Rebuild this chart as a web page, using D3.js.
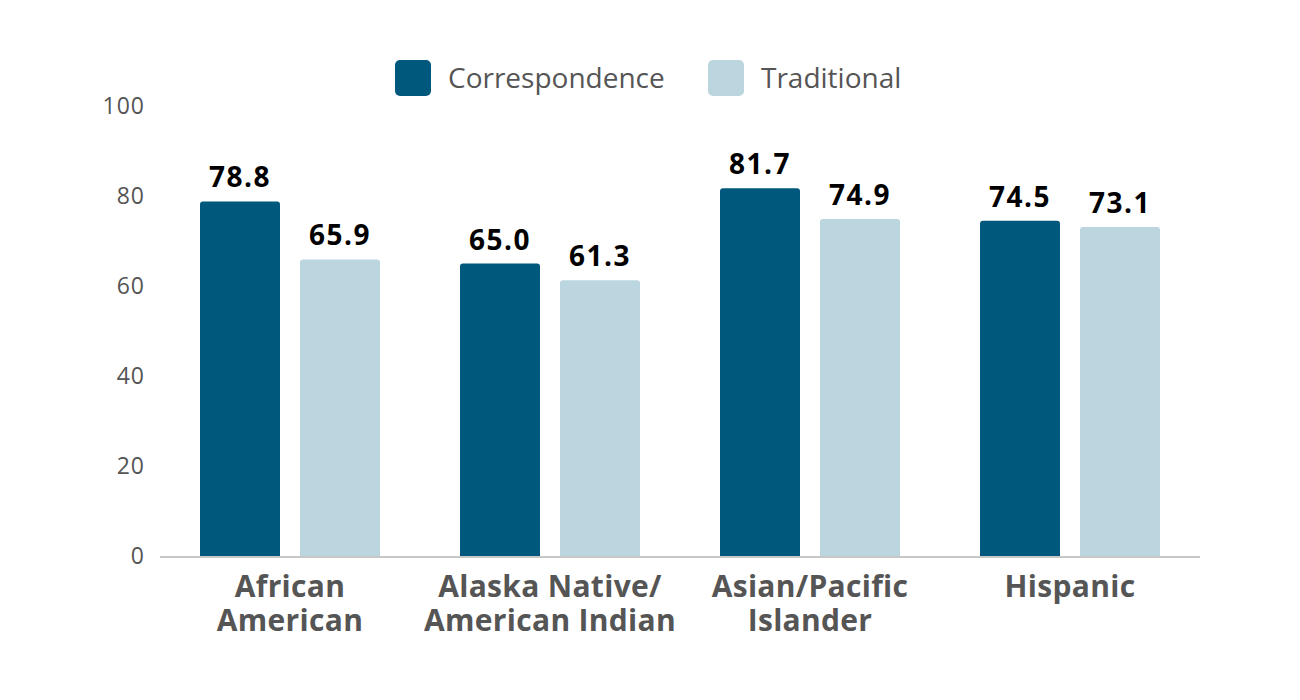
<!DOCTYPE html>
<html>
<head>
<meta charset="utf-8">
<script src="https://cdn.jsdelivr.net/npm/d3@7"></script>
<style>
  body { margin: 0; background: #fff; }
  svg text { font-family: "Open Sans", "Noto Sans", sans-serif; }
</style>
</head>
<body>
<svg id="chart"></svg>
<script>
// data
const categories = [["African", "American"], ["Alaska Native/", "American Indian"], ["Asian/Pacific", "Islander"], ["Hispanic"]];
const seriesNames = ["Correspondence", "Traditional"];
const correspondence = [78.8, 65.0, 81.7, 74.5];
const traditional = [65.9, 61.3, 74.9, 73.1];
const yTicks = [0, 20, 40, 60, 80, 100];

const colors = ["#00587c", "#bcd6e0"];

const width = 1300, height = 700;
const margin = { top: 106, right: 100, bottom: 144, left: 160 };

const svg = d3.select("#chart").attr("width", width).attr("height", height);

const keys = categories.map(c => c.join(" "));
const x = d3.scaleBand()
    .domain(keys)
    .range([margin.left, width - margin.right])
    .paddingInner(80 / 260)
    .paddingOuter(40 / 260);

const xInner = d3.scaleBand()
    .domain(seriesNames)
    .range([0, x.bandwidth()])
    .paddingInner(0.2);

const y = d3.scaleLinear()
    .domain([0, 100])
    .range([height - margin.bottom, margin.top]);

// y tick labels (no axis line)
svg.append("g")
    .selectAll("text")
    .data(yTicks)
    .join("text")
    .attr("x", margin.left - 15)
    .attr("y", d => y(d))
    .attr("dy", "0.35em")
    .attr("text-anchor", "end")
    .attr("font-size", 23)
    .attr("letter-spacing", 1)
    .attr("fill", "#555")
    .text(d => d);

const rows = keys.map((k, i) => ({ key: k, values: [correspondence[i], traditional[i]] }));

// bars with slightly rounded tops
function barPath(x0, w, yTop, yBot, r) {
    return `M${x0},${yBot}V${yTop + r}Q${x0},${yTop} ${x0 + r},${yTop}H${x0 + w - r}Q${x0 + w},${yTop} ${x0 + w},${yTop + r}V${yBot}Z`;
}

const groups = svg.append("g")
    .selectAll("g")
    .data(rows)
    .join("g")
    .attr("transform", d => `translate(${x(d.key)},0)`);

groups.selectAll("path")
    .data(d => d.values.map((v, j) => ({ name: seriesNames[j], value: v, j: j })))
    .join("path")
    .attr("d", d => barPath(xInner(d.name), xInner.bandwidth(), y(d.value), y(0), 3))
    .attr("fill", d => colors[d.j]);

groups.selectAll("text.value")
    .data(d => d.values.map((v, j) => ({ name: seriesNames[j], value: v })))
    .join("text")
    .attr("class", "value")
    .attr("x", d => xInner(d.name) + xInner.bandwidth() / 2)
    .attr("y", d => y(d.value) - 14)
    .attr("text-anchor", "middle")
    .attr("font-size", 28)
    .attr("font-weight", 700)
    .attr("letter-spacing", 1.5)
    .attr("fill", "#000")
    .text(d => d.value.toFixed(1));

// baseline
svg.append("line")
    .attr("x1", margin.left)
    .attr("x2", width - margin.right)
    .attr("y1", y(0) + 1)
    .attr("y2", y(0) + 1)
    .attr("stroke", "#c8c8c8")
    .attr("stroke-width", 2);

// category labels, one text per line
const catLines = [];
categories.forEach((c, i) => c.forEach((line, k) => catLines.push({ key: keys[i], line: line, k: k })));
svg.append("g")
    .selectAll("text")
    .data(catLines)
    .join("text")
    .attr("x", d => x(d.key) + x.bandwidth() / 2)
    .attr("y", d => y(0) + 41 + d.k * 34)
    .attr("text-anchor", "middle")
    .attr("font-size", 30)
    .attr("font-weight", 700)
    .attr("letter-spacing", 0.3)
    .attr("fill", "#555")
    .text(d => d.line);

// legend
const legend = svg.append("g").attr("transform", "translate(395,60)");
const legendX = [0, 313];
seriesNames.forEach((name, i) => {
    const g = legend.append("g").attr("transform", `translate(${legendX[i]},0)`);
    g.append("rect")
        .attr("width", 36)
        .attr("height", 36)
        .attr("rx", 5)
        .attr("fill", colors[i]);
    g.append("text")
        .attr("x", 53)
        .attr("y", 18)
        .attr("dy", "0.35em")
        .attr("font-size", 28)
        .attr("fill", "#555")
        .text(name);
});
</script>
</body>
</html>
